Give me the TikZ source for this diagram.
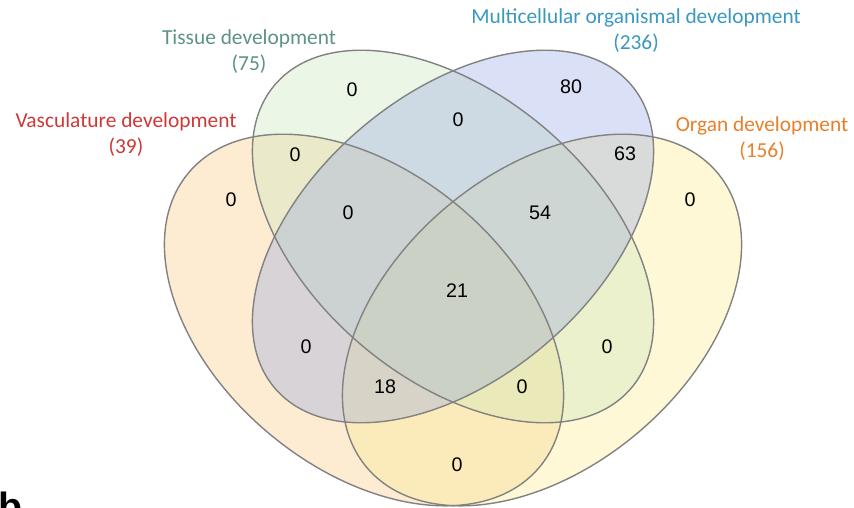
\documentclass[tikz,border=0pt]{standalone}
\usepackage{fontspec}
\setmainfont{Liberation Sans}
\newfontfamily\labelfont{Carlito}
\usepackage{tikz}
\definecolor{vennline}{RGB}{130,130,130}
\definecolor{vasc}{RGB}{249,198,126}
\definecolor{tissue}{RGB}{201,229,184}
\definecolor{multi}{RGB}{149,166,226}
\definecolor{organ}{RGB}{252,235,141}
\definecolor{vasctext}{RGB}{208,56,56}
\definecolor{tissuetext}{RGB}{94,146,134}
\definecolor{multitext}{RGB}{58,152,192}
\definecolor{organtext}{RGB}{232,128,42}
\tikzset{
	count/.style = {font=\fontsize{14}{16}\selectfont, inner sep=0pt},
	setname/.style = {align=center, font=\labelfont\fontsize{15.2}{18.5}\selectfont},
	setfill/.style = {fill opacity=0.35},
	rim/.style = {draw=vennline, line width=1pt}
}

\begin{document}
\begin{tikzpicture}[x=0.025cm, y=-0.025cm]
	\clip (0,0) rectangle (854,507);
	\foreach \cx/\cy/\ang/\rx/\ry/\col in {364/320/-40/229/148/vasc, 542/320/40/229/148/organ, 453/236.5/-40.4/234/142/tissue, 453/236.5/40.4/234/142/multi}
		\fill[\col, setfill, rotate around={\ang:(\cx,\cy)}] (\cx,\cy) ellipse [x radius=\rx, y radius=\ry];
	\foreach \cx/\cy/\ang/\rx/\ry in {364/320/-40/229/148, 542/320/40/229/148, 453/236.5/-40.4/234/142, 453/236.5/40.4/234/142}
		\draw[rim, rotate around={\ang:(\cx,\cy)}] (\cx,\cy) ellipse [x radius=\rx, y radius=\ry];

	\node[setname, text=vasctext] (vasc-name) at (126,135) {Vasculature development\\(39)};
	\node[setname, text=tissuetext] (tissue-name) at (249,52) {Tissue development\\(75)};
	\node[setname, text=multitext] (multi-name) at (636,31) {Multicellular organismal development\\(236)};
	\node[setname, text=organtext] (organ-name) at (762,139) {Organ development\\(156)};

	\node[count] (t-only) at (352,90) {0};
	\node[count] (m-only) at (571,87) {80};
	\node[count] (tm) at (458,120) {0};
	\node[count] (vt) at (295,155) {0};
	\node[count] (v-only) at (231,200) {0};
	\node[count] (mo) at (625,154) {63};
	\node[count] (o-only) at (690,200) {0};
	\node[count] (vtm) at (348,213) {0};
	\node[count] (tmo) at (540,213) {54};
	\node[count] (vtmo) at (457,291) {21};
	\node[count] (vm) at (306,347) {0};
	\node[count] (to) at (607,347) {0};
	\node[count] (vmo) at (385,387) {18};
	\node[count] (vto) at (522,387) {0};
	\node[count] (vo) at (457,465) {0};

	\node[font=\bfseries\fontsize{28}{28}\selectfont, anchor=base west, inner sep=0pt] (panel-b) at (-2,520) {b};
\end{tikzpicture}
\end{document}
